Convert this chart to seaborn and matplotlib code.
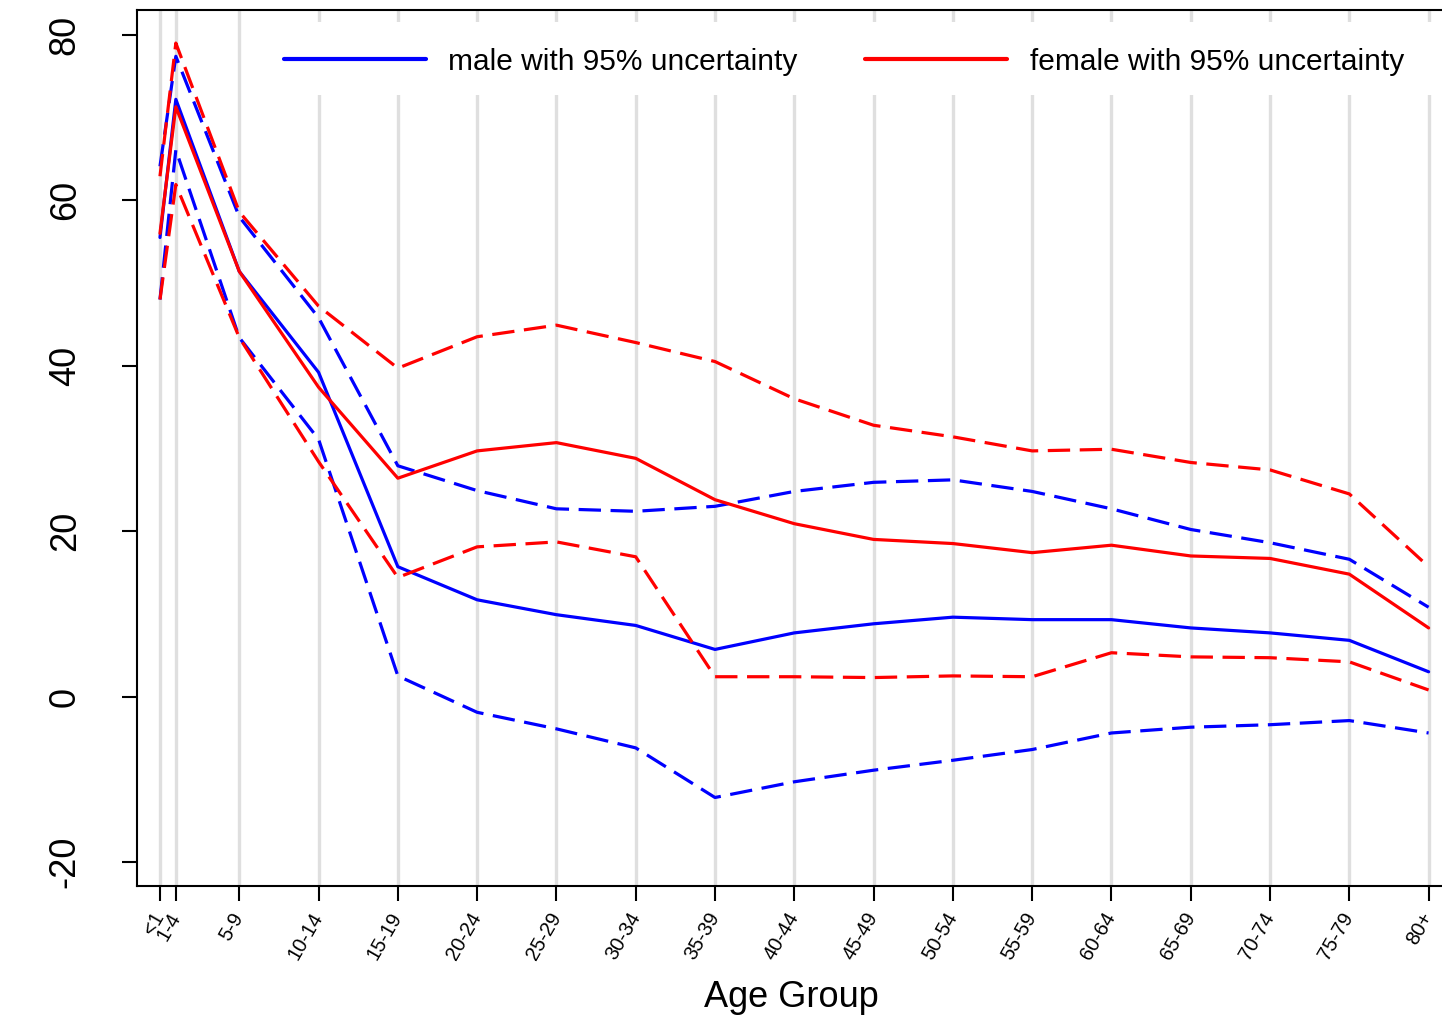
import numpy as np
import pandas as pd
import matplotlib
matplotlib.use("Agg")
import matplotlib.pyplot as plt
from matplotlib.patches import Rectangle
import seaborn as sns

ages = [0, 1, 5, 10, 15, 20, 25, 30, 35, 40, 45, 50, 55, 60, 65, 70, 75, 80]
age_labels = ["<1", "1-4", "5-9", "10-14", "15-19", "20-24", "25-29", "30-34", "35-39",
              "40-44", "45-49", "50-54", "55-59", "60-64", "65-69", "70-74", "75-79", "80+"]

male_mean = [55.5, 72.2, 51.4, 39.2, 15.7, 11.7, 9.9, 8.6, 5.7, 7.7, 8.8, 9.6, 9.3, 9.3, 8.3, 7.7, 6.8, 3.0]
male_upper = [64.1, 77.4, 58.0, 45.8, 27.9, 24.9, 22.7, 22.4, 23.0, 24.8, 25.9, 26.2, 24.8, 22.7, 20.2, 18.6, 16.6, 10.8]
male_lower = [48.0, 66.1, 43.4, 31.1, 2.5, -1.9, -3.9, -6.2, -12.2, -10.3, -8.9, -7.7, -6.4, -4.4, -3.7, -3.4, -2.9, -4.4]

female_mean = [56.0, 71.3, 51.4, 37.4, 26.4, 29.7, 30.7, 28.8, 23.8, 20.9, 19.0, 18.5, 17.4, 18.3, 17.0, 16.7, 14.8, 8.3]
female_upper = [62.9, 79.0, 58.6, 47.2, 39.7, 43.5, 44.9, 42.8, 40.5, 36.0, 32.8, 31.4, 29.7, 29.9, 28.3, 27.4, 24.5, 15.7]
female_lower = [48.0, 61.9, 43.4, 28.4, 14.4, 18.1, 18.7, 16.9, 2.4, 2.4, 2.3, 2.5, 2.4, 5.3, 4.8, 4.7, 4.2, 0.8]

sns.set_style("white", rc={"text.color": "black", "axes.labelcolor": "black",
                           "xtick.color": "black", "ytick.color": "black",
                           "axes.edgecolor": "black"})
plt.rcParams["font.family"] = ["Liberation Sans", "DejaVu Sans"]

fig = plt.figure(figsize=(14.42, 10.19), dpi=100)
ax = fig.add_axes([0.0950, 0.1305, 0.9078, 0.8597])

# vertical grid at each age group
for a in ages:
    ax.axvline(a, color="#dfdfdf", lw=2.4, zorder=0)

lw = 2.3
series = [
    (male_mean, "blue", "-"),
    (male_upper, "blue", "--"),
    (male_lower, "blue", "--"),
    (female_mean, "red", "-"),
    (female_upper, "red", "--"),
    (female_lower, "red", "--"),
]
for vals, col, ls in series:
    df = pd.DataFrame({"age": ages, "value": vals})
    sns.lineplot(data=df, x="age", y="value", ax=ax, color=col, lw=lw, legend=False, zorder=3)
    if ls == "--":
        ax.lines[-1].set_dashes((7, 3))

ax.set_xlim(-1.45, 81.1)
ax.set_ylim(-22.9, 83.0)
ax.set_xticks(ages)
ax.set_xticklabels(age_labels, rotation=60, fontsize=14.5, ha="right", va="center",
                   rotation_mode="anchor")
ax.set_yticks([-20, 0, 20, 40, 60, 80])
ax.set_yticklabels(["-20", "0", "20", "40", "60", "80"], rotation=90, fontsize=26, va="center")
ax.tick_params(axis="both", direction="out", length=11, width=1.5, bottom=True, left=True)
ax.tick_params(axis="x", pad=9)
ax.tick_params(axis="y", pad=28)
ax.set_xlabel("Age Group", fontsize=26)
ax.xaxis.set_label_coords(0.5, -0.107)
ax.set_ylabel("")
for s in ax.spines.values():
    s.set_linewidth(1.5)

# white legend background box
ax.add_patch(Rectangle((266 / 1442, 1 - 95 / 1019), 1 - 266 / 1442, 73 / 1019,
                       transform=fig.transFigure, facecolor="white", edgecolor="none", zorder=1))
handles = [plt.Line2D([], [], color="blue", lw=3), plt.Line2D([], [], color="red", lw=3)]
leg = ax.legend(handles, ["male with 95% uncertainty", "female with 95% uncertainty"],
                loc="upper left", bbox_to_anchor=(266 / 1442, 1 - 30 / 1019),
                bbox_transform=fig.transFigure, ncol=2, fontsize=21.5, frameon=False,
                handlelength=4.75, handletextpad=0.75, columnspacing=2.27,
                borderaxespad=0, borderpad=0.6)

fig.savefig("out.png", dpi=100)
